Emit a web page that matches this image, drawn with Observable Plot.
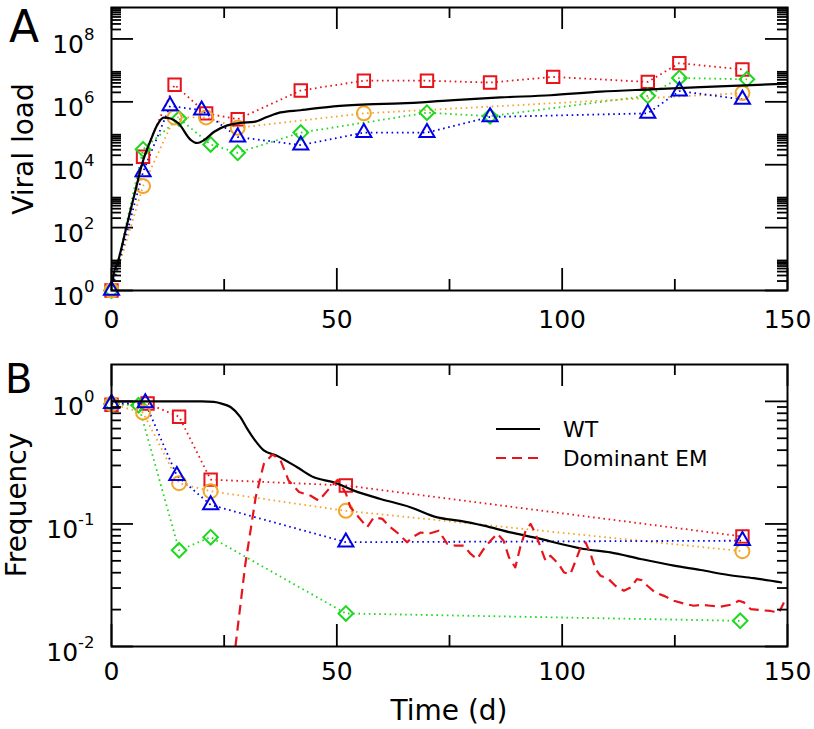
<!DOCTYPE html>
<html><head><meta charset="utf-8">
<script src="https://cdn.jsdelivr.net/npm/d3@7"></script>
<script src="https://cdn.jsdelivr.net/npm/@observablehq/plot@0.6"></script>
<style>
body{margin:0;background:#fff;}
#wrap{position:relative;width:814px;height:729px;font-family:"DejaVu Sans",sans-serif;overflow:hidden;}
</style></head><body><div id="wrap"></div>
<script>
// ---------- Panel A: viral load ----------
const dayA_red    = [0,7,14,21,28,42,56,70,84,98,119,126,140];
const valA_red    = [1,1.8e4,3.5e6,4.3e5,2.8e5,2.3e6,4.7e6,4.7e6,4.1e6,6.2e6,4.3e6,1.7e7,1.07e7];
const dayA_orange = [0,7,14,21,28,56,140];
const valA_orange = [1,2.1e3,3.2e5,3.2e5,1.5e5,4.3e5,1.9e6];
const dayA_green  = [0,7,15,22,28,42,70,84,119,126,141];
const valA_green  = [1,3.1e4,2.95e5,4.4e4,2.4e4,1.05e5,4.5e5,3.5e5,1.55e6,5.75e6,5.2e6];
const dayA_blue   = [0,7,13,20,28,42,56,70,84,119,126,140];
const valA_blue   = [1,5.9e3,7.4e5,5.4e5,7.6e4,4.2e4,1.05e5,1.05e5,3.3e5,4.3e5,2.2e6,1.2e6];
const dayA_wt = [0.3,0.5,1.3,3.5,5.3,6.8,8.7,10.1,11.6,13.1,14.9,17.5,19,20.5,22.7,25.7,28.6,31.6,34.5,37.5,41.9,49.3,56.7,64.1,75.2,86.3,97.4,108.5,119.6,130.7,150];
const valA_wt = [2.0,3.5,7.2,135,1.48e3,1.07e4,6.0e4,1.78e5,3.16e5,2.95e5,2.04e5,6.3e4,4.9e4,6.0e4,1.1e5,1.78e5,2.14e5,2.3e5,3.3e5,4.6e5,5.4e5,7.2e5,8.3e5,8.9e5,1.12e6,1.38e6,1.62e6,2.1e6,2.5e6,2.95e6,3.8e6];

// ---------- Panel B: frequency ----------
const dayB_red    = [0,8,15,22,52,140];
const valB_red    = [0.94,0.96,0.75,0.23,0.206,0.079];
const dayB_orange = [0,7,15,22,52,140];
const valB_orange = [0.95,0.81,0.215,0.185,0.128,0.060];
const dayB_green  = [0,6,15,22,52,139.5];
const valB_green  = [0.95,0.93,0.061,0.078,0.0186,0.0162];
const dayB_blue   = [0,7.5,14.5,22,52,140];
const valB_blue   = [0.96,0.97,0.248,0.143,0.071,0.073];
const dayB_wt = [0,10,20,22.7,24.6,26.4,28.6,30.1,31.6,33.8,36.8,41.2,44.9,49.3,53.8,59.7,66.3,72.3,77.4,82.6,88.5,93.7,104.8,110.7,117.4,124.8,130.7,136.6,142.5,148.8];
const valB_wt = [1.0,1.0,1.0,0.99,0.955,0.90,0.745,0.60,0.495,0.398,0.359,0.29,0.24,0.219,0.187,0.16,0.137,0.113,0.106,0.0968,0.0853,0.0776,0.0625,0.0586,0.0518,0.0457,0.0421,0.0385,0.0361,0.0333];
const dayB_em = [27.5,29.7,32,33.8,35.7,37.5,39.3,41.6,44.2,46,48.6,50.2,52,53,54.9,56.7,58.2,60.1,61.9,63.4,65.6,66.7,68.6,70.4,72.6,74.5,76.3,78.2,79.7,81.1,82.6,84.1,85.6,87,88.2,89.6,90.7,91.9,93,94.1,95.2,96.3,97.4,99.2,100.4,101.8,103,104.1,105.2,106.3,107.4,108.5,110.3,111.8,113.7,115.2,116.6,117.7,118.9,120.7,122.6,124.8,127,129.2,131.1,132.9,135.1,137.4,139.2,140.3,141.8,144,146.2,148.1,149.2];
const valB_em = [0.0100,0.0471,0.166,0.309,0.369,0.331,0.226,0.182,0.170,0.155,0.200,0.229,0.178,0.137,0.113,0.0938,0.113,0.110,0.0938,0.0851,0.0708,0.0776,0.0851,0.0832,0.0881,0.0687,0.0665,0.0665,0.0569,0.0518,0.0625,0.0729,0.0832,0.0729,0.0533,0.0442,0.0646,0.0881,0.100,0.0832,0.0646,0.0501,0.0550,0.0471,0.0402,0.0389,0.0501,0.0646,0.0708,0.0569,0.0429,0.0378,0.0355,0.0313,0.0285,0.0303,0.0355,0.0347,0.0313,0.0275,0.0259,0.0236,0.0224,0.0215,0.0219,0.0215,0.0211,0.0219,0.0236,0.0229,0.0202,0.0198,0.0195,0.0189,0.0229];

// ---------- ticks ----------
const xMajor = [0,50,100,150];
const xMinor = [25,75,125];
const xTickLabels = ["0","50","100","150"];
const yMajorA = [1e0,1e2,1e4,1e6,1e8];
const yMinorA = [1e0,1e2,1e4,1e6,1e8].flatMap(b => [2,3,4,5,6,7,8,9].map(k => k*b));
const yMajorB = [1e-2,1e-1,1e0];
const yMinorB = [1e-2,1e-1].flatMap(b => [2,3,4,5,6,7,8,9].map(k => k*b));
const legendLabels = ["WT","Dominant EM"];

const rows = (xs, ys) => xs.map((x, i) => ({x, y: ys[i]}));
const C = {red:"#e8141b", orange:"#f4a428", green:"#1ed81e", blue:"#0000e6"};
const SYM = {red:["square",7], green:["diamond2",6.6], orange:["circle",7], blue:["triangle",5.6]};
const ORDER = ["red","green","orange","blue"];

const W = 814, ML = 111, MR = 27, FW = W - ML - MR;

function panel(o) {
  const FH = o.height - o.mt - o.mb;
  const tk = {stroke:"black", strokeWidth:1.8};
  const marks = [];
  for (const k of ORDER) marks.push(Plot.line(rows(o.days[k], o.vals[k]), {x:"x", y:"y", stroke:C[k], strokeWidth:1.8, strokeDasharray:"1.6 3.6", strokeLinecap:"butt"}));
  for (const k of ORDER) marks.push(Plot.dot(rows(o.days[k], o.vals[k]), {x:"x", y:"y", stroke:C[k], fill:"none", strokeWidth:2, symbol:SYM[k][0], r:SYM[k][1]}));
  for (const l of o.lines) marks.push(Plot.line(l.data, {x:"x", y:"y", stroke:l.color, strokeWidth:2.2, strokeDasharray:l.dash, strokeLinecap:"butt", curve:l.curve}));
  marks.push(
    // inward ticks on all four sides
    Plot.tickX(xMajor, {...tk, x:d=>d, insetTop:FH-22}),
    Plot.tickX(xMinor, {...tk, x:d=>d, insetTop:FH-11}),
    Plot.tickX(xMajor, {...tk, x:d=>d, insetBottom:FH-22}),
    Plot.tickX(xMinor, {...tk, x:d=>d, insetBottom:FH-11}),
    Plot.tickY(o.yMajor, {...tk, y:d=>d, insetRight:FW-22}),
    Plot.tickY(o.yMinor, {...tk, y:d=>d, insetRight:FW-10}),
    Plot.tickY(o.yMajor, {...tk, y:d=>d, insetLeft:FW-22}),
    Plot.tickY(o.yMinor, {...tk, y:d=>d, insetLeft:FW-10}),
    Plot.axisX(xMajor, {anchor:"bottom", tickSize:0, tickPadding:o.xPad, fontSize:25, tickFormat:d=>xTickLabels[xMajor.indexOf(d)], label:null}),
    Plot.axisY(o.yMajor, {anchor:"left", tickSize:0, tickPadding:17, fontSize:25, dy:6, tickFormat:d=>"10^"+Math.round(Math.log10(d)), label:null}),
    Plot.frame({stroke:"black", strokeWidth:2})
  );
  const svg = Plot.plot({
    width:W, height:o.height, marginLeft:ML, marginRight:MR, marginTop:o.mt, marginBottom:o.mb,
    style:{position:"absolute", left:"0px", top:o.top+"px", fontFamily:"DejaVu Sans", fontSize:"25px", color:"black", background:"transparent", overflow:"visible"},
    x:{domain:[0,150]},
    y:{type:"log", domain:o.yDomain},
    marks
  });
  svg.querySelectorAll('g[aria-label="y-axis tick label"] text').forEach(t => {
    const [b, e] = t.textContent.split("^");
    t.textContent = "";
    const t1 = document.createElementNS("http://www.w3.org/2000/svg","tspan"); t1.textContent = b;
    const t2 = document.createElementNS("http://www.w3.org/2000/svg","tspan"); t2.textContent = e;
    t2.setAttribute("dy","-13"); t2.setAttribute("font-size","16.5");
    t.append(t1, t2);
  });
  return svg;
}

const wrap = document.getElementById("wrap");
wrap.append(panel({
  top:0, height:340, mt:7, mb:50, xPad:20, yDomain:[1,1e9], yMajor:yMajorA, yMinor:yMinorA,
  days:{red:dayA_red, orange:dayA_orange, green:dayA_green, blue:dayA_blue},
  vals:{red:valA_red, orange:valA_orange, green:valA_green, blue:valA_blue},
  lines:[{data:rows(dayA_wt, valA_wt), color:"black", dash:null, curve:"monotone-x"}]
}));
wrap.append(panel({
  top:340, height:389, mt:24, mb:83, xPad:16, yDomain:[0.01,2], yMajor:yMajorB, yMinor:yMinorB,
  days:{red:dayB_red, orange:dayB_orange, green:dayB_green, blue:dayB_blue},
  vals:{red:valB_red, orange:valB_orange, green:valB_green, blue:valB_blue},
  lines:[{data:rows(dayB_wt, valB_wt), color:"black", dash:null, curve:"monotone-x"},
         {data:rows(dayB_em, valB_em), color:"#e8141b", dash:"10 6", curve:"linear"}]
}));

// Overlay: panel letters, axis titles, legend
const ov = d3.select(wrap).append("svg").attr("width",814).attr("height",729)
  .style("position","absolute").style("left","0px").style("top","0px")
  .attr("font-family","DejaVu Sans");
ov.append("text").attr("x",9).attr("y",42).attr("font-size",44).text("A");
ov.append("text").attr("x",5).attr("y",393).attr("font-size",40).text("B");
ov.append("text").attr("transform","translate(33,149) rotate(-90)").attr("text-anchor","middle").attr("font-size",28).text("Viral load");
ov.append("text").attr("transform","translate(26,505) rotate(-90)").attr("text-anchor","middle").attr("font-size",28).text("Frequency");
ov.append("text").attr("x",449).attr("y",720).attr("text-anchor","middle").attr("font-size",28).text("Time (d)");
const lg = ov.append("g");
lg.append("line").attr("x1",496).attr("x2",540).attr("y1",429).attr("y2",429).attr("stroke","black").attr("stroke-width",2.2);
lg.append("line").attr("x1",496).attr("x2",540).attr("y1",458).attr("y2",458).attr("stroke","#e8141b").attr("stroke-width",2.2).attr("stroke-dasharray","10 6");
lg.append("text").attr("x",563).attr("y",437).attr("font-size",22).text(legendLabels[0]);
lg.append("text").attr("x",563).attr("y",466).attr("font-size",21.5).text(legendLabels[1]);
</script></body></html>
